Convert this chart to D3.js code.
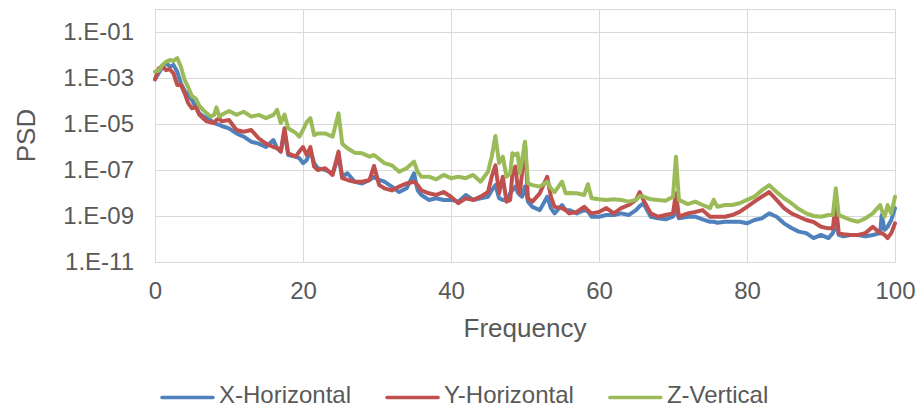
<!DOCTYPE html>
<html>
<head>
<meta charset="utf-8">
<script src="https://cdn.jsdelivr.net/npm/d3@7"></script>
<style>
  body { margin: 0; background: #fff; }
  text { font-family: "Liberation Sans", Arial, sans-serif; }
</style>
</head>
<body>
<div id="psd_chart"></div>
<script>
// frequency points shared by the three series
const freq = [0,0.5,1,1.5,2,2.5,3,3.5,4,4.5,
  5,5.5,6,6.5,7,7.5,8,8.3,8.7,9,
  10,11,12,13,14,15,16,16.5,17,17.5,
  18,19,19.5,20,20.5,21,21.5,22,23,24,
  24.8,25.3,26,27,28,29,29.6,30.3,31,32,
  33,34,35,35.5,36,37,38,39,40,41,
  42,43,44,45,45.5,46,46.5,47,47.5,48,
  48.3,48.7,49,49.3,49.6,50,50.4,51,52,53,
  53.5,54,55,55.5,56,57,58,58.5,59,60,
  61,62,63,64,65,65.5,66,67,68,69,
  70,70.4,70.8,72,73,74,75,75.5,76,77,
  78,79,80,81,82,83,84,85,86,87,
  88,89,90,91,91.6,92,92.4,93,94,95,
  96,97,98,98.2,98.6,99,99.5,100]

const xHorizontal = [8.8e-4,1.6e-3,3.1e-3,4.6e-3,3.1e-3,3.7e-3,1.9e-3,5.9e-4,2.8e-4,1.8e-4,
  1.1e-4,5.6e-5,2.9e-5,2.2e-5,1.8e-5,1.5e-5,1.1e-5,1.0e-5,9.1e-6,8.2e-6,
  6.5e-6,3.9e-6,2.8e-6,1.7e-6,1.4e-6,1.0e-6,2.0e-6,8.8e-7,6.3e-7,4.6e-6,
  4.5e-7,3.8e-7,3.3e-7,2.0e-7,2.7e-7,7.4e-7,2.0e-7,1.2e-7,1.0e-7,7.2e-8,
  3.8e-7,5.1e-8,7.2e-8,3.1e-8,2.6e-8,3.7e-8,5.0e-8,3.7e-8,3.1e-8,1.9e-8,
  1.1e-8,1.6e-8,7.2e-8,1.3e-8,8.2e-9,5.0e-9,5.9e-9,5.0e-9,5.0e-9,4.2e-9,
  8.2e-9,5.0e-9,5.9e-9,6.9e-9,1.3e-8,2.2e-8,5.9e-9,5.0e-9,5.0e-9,9.7e-9,
  1.3e-8,1.9e-8,1.1e-8,8.2e-9,6.9e-9,1.9e-8,4.2e-9,2.5e-9,1.8e-9,6.9e-9,
  2.2e-9,1.3e-9,3.0e-9,1.8e-9,1.8e-9,1.3e-9,1.8e-9,1.6e-9,9.3e-10,9.3e-10,
  1.1e-9,1.1e-9,1.3e-9,1.1e-9,1.8e-9,2.7e-9,3.6e-9,9.3e-10,7.9e-10,7.2e-10,
  9.3e-10,1.8e-9,7.9e-10,9.3e-10,9.3e-10,7.2e-10,5.6e-10,5.6e-10,5.1e-10,5.6e-10,
  5.6e-10,5.6e-10,4.8e-10,6.7e-10,7.9e-10,1.3e-9,9.3e-10,4.8e-10,3.0e-10,2.1e-10,
  1.8e-10,1.1e-10,1.5e-10,1.1e-10,1.8e-10,4.8e-10,1.5e-10,1.3e-10,1.5e-10,1.5e-10,
  1.3e-10,1.5e-10,1.8e-10,1.1e-9,2.5e-10,3.4e-10,6.7e-10,2.2e-9]

const yHorizontal = [8.8e-4,2.6e-3,3.3e-3,2.2e-3,2.4e-3,1.6e-3,5.0e-4,5.0e-4,2.2e-4,7.9e-5,
  4.8e-5,5.6e-5,2.5e-5,1.8e-5,1.3e-5,1.2e-5,1.1e-5,1.5e-5,1.8e-5,1.3e-5,
  1.5e-5,5.5e-6,4.6e-6,5.5e-6,2.4e-6,1.4e-6,1.0e-6,9.1e-7,6.3e-7,6.5e-6,
  5.3e-7,3.8e-7,6.3e-7,1.0e-6,4.5e-7,1.0e-6,1.4e-7,1.0e-7,1.2e-7,6.1e-8,
  6.3e-7,4.4e-8,3.7e-8,3.1e-8,3.1e-8,3.7e-8,1.5e-7,2.2e-8,1.6e-8,1.3e-8,
  1.9e-8,2.6e-8,3.1e-8,2.2e-8,1.3e-8,9.7e-9,8.2e-9,1.1e-8,6.9e-9,3.6e-9,
  5.9e-9,5.0e-9,6.9e-9,1.1e-8,5.1e-8,1.6e-7,9.7e-9,5.1e-8,4.2e-9,5.0e-9,
  7.2e-8,1.4e-7,1.9e-8,9.7e-9,7.2e-8,1.5e-6,5.9e-9,4.2e-9,9.7e-9,5.1e-8,
  6.9e-9,2.5e-9,2.2e-9,1.8e-9,1.3e-9,1.5e-9,2.5e-9,1.8e-9,1.3e-9,1.5e-9,
  2.2e-9,1.3e-9,2.2e-9,3.0e-9,5.0e-9,1.1e-8,5.0e-9,1.3e-9,9.3e-10,1.1e-9,
  1.3e-9,9.7e-9,9.3e-10,1.3e-9,1.5e-9,1.8e-9,9.3e-10,9.3e-10,9.3e-10,9.3e-10,
  1.1e-9,1.5e-9,2.5e-9,4.2e-9,6.9e-9,1.1e-8,5.0e-9,2.2e-9,1.3e-9,9.3e-10,
  6.7e-10,5.5e-10,3.4e-10,2.9e-10,2.9e-10,3.6e-9,1.8e-10,1.6e-10,1.5e-10,1.5e-10,
  1.8e-10,3.4e-10,1.8e-10,1.8e-10,1.5e-10,1.1e-10,1.8e-10,4.8e-10]

const zVertical = [1.9e-3,2.1e-3,3.7e-3,5.1e-3,6.1e-3,5.5e-3,7.4e-3,3.1e-3,8.2e-4,3.9e-4,
  1.6e-4,1.3e-4,6.1e-5,4.1e-5,2.9e-5,2.1e-5,2.5e-5,5.3e-5,2.1e-5,2.5e-5,
  3.7e-5,2.5e-5,3.4e-5,2.1e-5,2.5e-5,1.8e-5,2.5e-5,4.1e-5,1.1e-5,2.6e-5,
  6.5e-6,4.1e-6,2.8e-6,5.5e-6,1.2e-5,1.8e-5,3.3e-6,3.9e-6,3.9e-6,2.8e-6,
  2.9e-5,1.4e-6,8.8e-7,5.6e-7,5.3e-7,3.8e-7,4.5e-7,3.0e-7,2.0e-7,1.6e-7,
  8.4e-8,1.2e-7,2.3e-7,8.2e-8,5.1e-8,5.1e-8,3.9e-8,6.1e-8,4.4e-8,5.1e-8,
  4.4e-8,6.1e-8,3.1e-8,8.4e-8,3.8e-7,3.0e-6,2.0e-7,3.8e-7,5.1e-8,7.2e-8,
  5.3e-7,4.5e-7,5.3e-7,7.2e-8,2.7e-7,1.7e-6,2.6e-8,2.2e-8,1.9e-8,3.1e-8,
  1.6e-8,1.1e-8,3.1e-8,9.7e-9,1.0e-8,9.7e-9,8.2e-9,2.4e-8,5.9e-9,5.3e-9,
  5.0e-9,5.3e-9,5.0e-9,4.2e-9,5.0e-9,7.4e-9,6.9e-9,5.3e-9,5.0e-9,4.6e-9,
  6.9e-9,3.8e-7,5.0e-9,3.3e-9,4.2e-9,3.0e-9,2.2e-9,5.0e-9,2.5e-9,3.0e-9,
  3.0e-9,3.6e-9,5.0e-9,6.9e-9,1.3e-8,2.2e-8,1.1e-8,5.9e-9,3.6e-9,2.0e-9,
  1.3e-9,1.0e-9,9.3e-10,1.1e-9,1.1e-9,1.6e-8,1.1e-9,9.1e-10,6.7e-10,5.6e-10,
  7.9e-10,1.3e-9,3.0e-9,1.8e-9,9.3e-10,3.0e-9,1.3e-9,6.9e-9]

const seriesNames = ["X-Horizontal", "Y-Horizontal", "Z-Vertical"]
const seriesColors = ["#4F81BD", "#C0504D", "#9BBB59"]
const xTicks = [0, 20, 40, 60, 80, 100]
const yTicks = [1e-11, 1e-9, 1e-7, 1e-5, 1e-3, 1e-1]

// set the dimensions and margins of the graph
const margin = {top: 9, right: 20, bottom: 148, left: 155},
  width = 915 - margin.left - margin.right,
  height = 410 - margin.top - margin.bottom;

const gridColor = "#d9d9d9", textColor = "#595959";

// create the svg object
const svg = d3.select("#psd_chart")
.append("svg")
  .attr("width", width + margin.left + margin.right)
  .attr("height", height + margin.top + margin.bottom)
.append("g")
  .attr("transform", `translate(${margin.left},${margin.top})`);

// scales
const x = d3.scaleLinear().domain([0, 100]).range([0, width]);
const y = d3.scaleLog().domain([1e-11, 1]).range([height, 0]);

// gridlines
svg.append("g")
  .call(d3.axisLeft(y).tickValues(yTicks).tickSize(-width).tickFormat(""))
  .call(g => g.select(".domain").remove())
  .selectAll("line").attr("stroke", gridColor);
svg.append("g")
  .attr("transform", `translate(0, ${height})`)
  .call(d3.axisBottom(x).tickValues(xTicks).tickSize(-height).tickFormat(""))
  .call(g => g.select(".domain").remove())
  .selectAll("line").attr("stroke", gridColor);

// plot area border
svg.append("rect")
  .attr("x", 0.5).attr("y", 0.5)
  .attr("width", width).attr("height", height)
  .attr("fill", "none")
  .attr("stroke", gridColor);

// tick labels
const expFormat = d => "1.E-" + String(Math.round(-Math.log10(d))).padStart(2, "0");

svg.append("g")
  .call(d3.axisLeft(y).tickValues(yTicks).tickSize(0).tickPadding(21).tickFormat(expFormat))
  .call(g => g.select(".domain").remove())
  .attr("font-size", 24)
  .attr("font-family", null)
  .style("color", textColor);

svg.append("g")
  .attr("transform", `translate(0, ${height})`)
  .call(d3.axisBottom(x).tickValues(xTicks).tickSize(0).tickPadding(20))
  .call(g => g.select(".domain").remove())
  .attr("font-size", 24)
  .attr("font-family", null)
  .style("color", textColor);

// axis titles
svg.append("text")
  .attr("text-anchor", "middle")
  .attr("x", width / 2)
  .attr("y", height + 75)
  .attr("fill", textColor)
  .style("font-size", "26px")
  .text("Frequency");

svg.append("text")
  .attr("text-anchor", "middle")
  .attr("transform", `translate(${-120}, ${height / 2}) rotate(-90)`)
  .attr("fill", textColor)
  .style("font-size", "26px")
  .text("PSD");

// the three PSD lines
const line = d3.line()
  .x((d, i) => x(freq[i]))
  .y(d => y(d));

[xHorizontal, yHorizontal, zVertical].forEach((values, k) => {
  svg.append("path")
    .datum(values)
    .attr("fill", "none")
    .attr("stroke", seriesColors[k])
    .attr("stroke-width", 4)
    .attr("stroke-linejoin", "round")
    .attr("stroke-linecap", "round")
    .attr("d", line);
});

// legend
const legend = svg.append("g")
  .attr("transform", `translate(${162 - margin.left}, ${397.5 - margin.top})`);
let offset = 0;
seriesNames.forEach((name, k) => {
  const item = legend.append("g").attr("transform", `translate(${offset},0)`);
  item.append("line")
    .attr("x1", 0).attr("x2", 51)
    .attr("stroke", seriesColors[k])
    .attr("stroke-width", 3.5)
    .attr("stroke-linecap", "round");
  const label = item.append("text")
    .attr("x", 57)
    .attr("y", 5.5)
    .attr("fill", textColor)
    .style("font-size", "24px")
    .text(name);
  offset += 57 + label.node().getComputedTextLength() + 36;
});
</script>
</body>
</html>
